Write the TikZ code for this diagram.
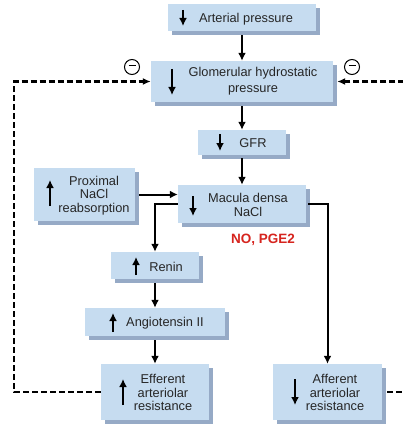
\documentclass[tikz,border=0pt]{standalone}
\usepackage{fontspec}
\setmainfont{Liberation Sans}
\usetikzlibrary{shadows,arrows.meta}
\definecolor{boxc}{RGB}{198,220,240}
\definecolor{shadc}{RGB}{150,170,198}
\definecolor{redt}{RGB}{214,36,30}
\begin{document}
\begin{tikzpicture}[x=1pt,y=-1pt,
  box/.style={draw=none,fill=boxc,inner sep=0pt,
     drop shadow={shadow xshift=4pt,shadow yshift=-4pt,fill=shadc,opacity=1}},
  txt/.style={inner sep=0pt,align=center,text=black!85,font=\fontsize{12.8}{13.5}\selectfont},
  conn/.style={line width=2pt,-{Latex[length=8pt,width=8pt]}},
  fb/.style={line width=2.3pt,dash pattern=on 6pt off 3pt,-{Latex[length=8pt,width=7pt]}},
  inarr/.style={line width=2.8pt,-{Latex[length=8pt,width=8pt]}},
  minusc/.style={circle,draw,line width=1pt,minimum size=15pt,inner sep=0pt}]
\useasboundingbox (0,0) rectangle (403,425);
\fill[white] (0,0) rectangle (403,425);
% boxes
\node[box,minimum width=148pt,minimum height=27pt] (A) at (242,17.5) {};
\node[box,minimum width=182pt,minimum height=41pt] (G) at (242,81.5) {};
\node[box,minimum width=88pt,minimum height=25pt] (F) at (242,142.5) {};
\node[box,minimum width=101pt,minimum height=53pt] (P) at (84.5,194.5) {};
\node[box,minimum width=128pt,minimum height=38pt] (M) at (242,204) {};
\node[box,minimum width=88pt,minimum height=27pt] (R) at (155,265.5) {};
\node[box,minimum width=140pt,minimum height=28pt] (AT) at (155,322) {};
\node[box,minimum width=108pt,minimum height=56pt] (E) at (155,392) {};
\node[box,minimum width=109pt,minimum height=56pt] (AF) at (327.5,392) {};
% texts
\node[txt] (tA) at (246,19) {Arterial pressure};
\node[txt,font=\fontsize{12.8}{16}\selectfont] (tG) at (253,81.5) {Glomerular hydrostatic\\pressure};
\node[txt] (tF) at (253,143.5) {GFR};
\node[txt] (tP) at (94,195.5) {Proximal\\NaCl\\reabsorption};
\node[txt] (tM) at (248,205) {Macula densa\\NaCl};
\node[txt] (tR) at (166,266.5) {Renin};
\node[txt] (tAT) at (165,323.5) {Angiotensin II};
\node[txt] (tE) at (163,392.5) {Efferent\\arteriolar\\resistance};
\node[txt] (tAF) at (335,392.5) {Afferent\\arteriolar\\resistance};
\node[inner sep=0pt,text=redt,font=\fontsize{13.5}{14}\selectfont\bfseries] (no) at (263,239.5) {NO, PGE2};
% in-box arrows
\draw[inarr] (183,10) -- (183,26);
\draw[inarr] (172,69) -- (172,95);
\draw[inarr] (220,134) -- (220,151);
\draw[inarr] (50,206) -- (50,180);
\draw[inarr] (193,196) -- (193,216);
\draw[inarr] (136,275) -- (136,257);
\draw[inarr] (113,332) -- (113,313);
\draw[inarr] (123,405) -- (123,379);
\draw[inarr] (295,379) -- (295,405);
% connectors
\draw[conn,shorten <=4pt] (A.south) -- (G.north);
\draw[conn,shorten <=4pt] (G.south) -- (F.north);
\draw[conn,shorten <=3pt] (F.south) -- (M.north);
\draw[conn,shorten <=4pt] (P.east) -- (M.west |- P.east);
\draw[conn] (M.west) -| (R.north);
\draw[conn,shorten <=4pt] (R.south) -- (AT.north);
\draw[conn,shorten <=4pt] (AT.south) -- (E.north);
\draw[conn,shorten <=2pt] (M.east) -| (AF.north);
% feedback
\coordinate (Lc) at (14,0);
\coordinate (Rc) at (407,0);
\draw[fb] (E.west) -- (E.west -| Lc) -- (G.west -| Lc) -- (G.west);
\draw[fb,shorten <=5pt,shorten >=4pt] (AF.east) -- (AF.east -| Rc) -- (G.east -| Rc) -- (G.east);
\node[minusc] (m1) at (132,67) {\rule[0.55ex]{7pt}{1pt}};
\node[minusc] (m2) at (352,67) {\rule[0.55ex]{7pt}{1pt}};
\end{tikzpicture}
\end{document}
